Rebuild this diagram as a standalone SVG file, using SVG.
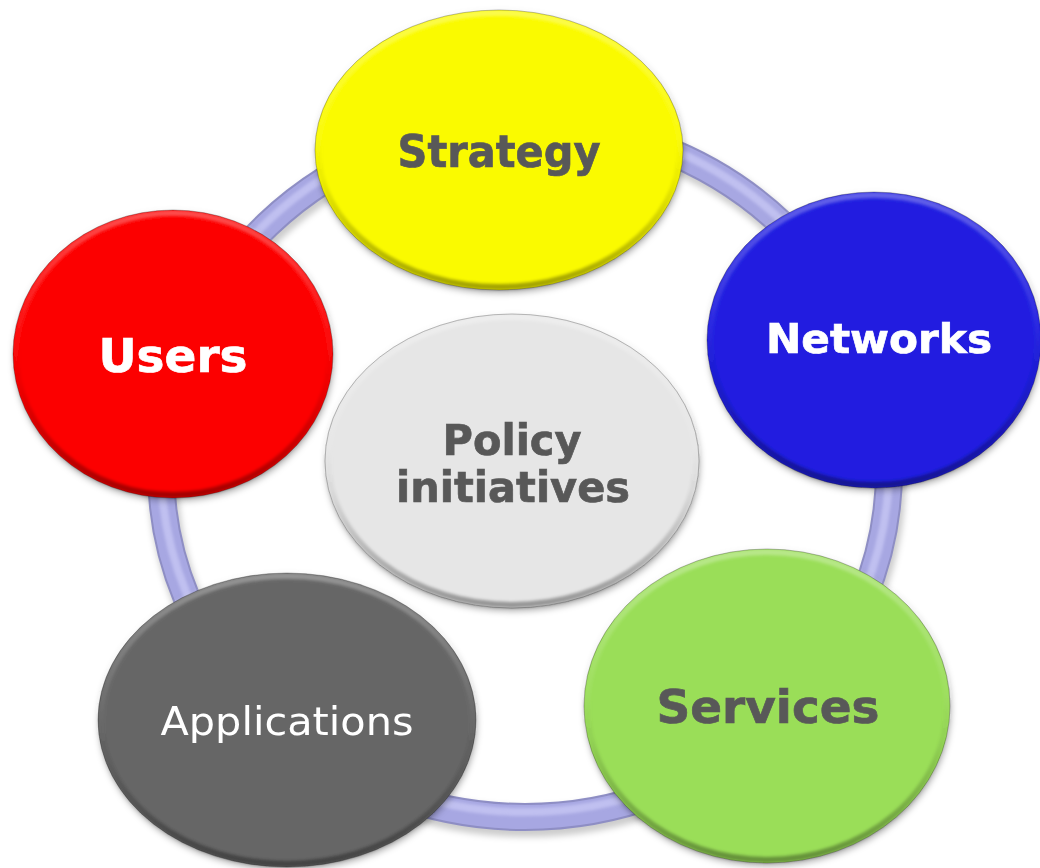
<svg xmlns="http://www.w3.org/2000/svg" width="1040" height="868" viewBox="0 0 1040 868">
  <defs>
    <style>
      .lbl { font-family: "DejaVu Sans", Verdana, sans-serif; text-anchor: middle; }
      .b { font-weight: bold; stroke-width: 0.7; }
      .dark { fill: #595959; stroke: #595959; }
      .light { fill: #ffffff; stroke: #ffffff; }
      .reg { stroke-width: 0; }
      .node { filter: url(#shadow); }
      .rim { fill: none; stroke: #000; stroke-opacity: 0.25; stroke-width: 1; }
      .bevel { fill: none; stroke: url(#bevelGrad); stroke-width: 6; filter: url(#soft); }
    </style>
    <filter id="shadow" x="-10%" y="-10%" width="120%" height="125%">
      <feDropShadow dx="1" dy="3" stdDeviation="3" flood-color="#000" flood-opacity="0.3"/>
    </filter>
    <filter id="soft" x="-5%" y="-5%" width="110%" height="110%">
      <feGaussianBlur stdDeviation="1.4"/>
    </filter>
    <filter id="tubeShadow" x="-10%" y="-10%" width="120%" height="120%">
      <feGaussianBlur stdDeviation="3"/>
    </filter>
    <linearGradient id="bevelGrad" x1="0" y1="0" x2="0" y2="1">
      <stop offset="0" stop-color="#ffffff" stop-opacity="0.3"/>
      <stop offset="0.45" stop-color="#ffffff" stop-opacity="0.05"/>
      <stop offset="0.6" stop-color="#000000" stop-opacity="0.05"/>
      <stop offset="1" stop-color="#000000" stop-opacity="0.35"/>
    </linearGradient>
  </defs>

  <rect width="1040" height="868" fill="#ffffff"/>

  <!-- ring connecting the outer nodes -->
  <g id="connectors">
    <ellipse cx="527" cy="475" rx="364" ry="347" fill="none" stroke="#000" stroke-opacity="0.2" stroke-width="30" filter="url(#tubeShadow)"/>
    <ellipse cx="525" cy="470" rx="364" ry="347" fill="none" stroke="#8e8ec4" stroke-width="28"/>
    <ellipse cx="525" cy="470" rx="364" ry="347" fill="none" stroke="#a7a7e2" stroke-width="24"/>
    <ellipse cx="525" cy="466" rx="364" ry="346" fill="none" stroke="#c0c0f0" stroke-width="8" filter="url(#soft)"/>
  </g>

  <g id="strategy" class="node">
    <ellipse cx="499" cy="150" rx="184" ry="140" fill="#fafa00"/>
    <ellipse cx="499" cy="150" rx="181" ry="137" class="bevel"/>
    <ellipse cx="499" cy="150" rx="184" ry="140" class="rim"/>
    <text x="499" y="167" class="lbl b dark" font-size="45" textLength="203" lengthAdjust="spacingAndGlyphs">Strategy</text>
  </g>

  <g id="users" class="node">
    <ellipse cx="173" cy="354" rx="160" ry="144" fill="#fc0000"/>
    <ellipse cx="173" cy="354" rx="157" ry="141" class="bevel"/>
    <ellipse cx="173" cy="354" rx="160" ry="144" class="rim"/>
    <text x="173" y="372" class="lbl b light" font-size="47" textLength="149" lengthAdjust="spacingAndGlyphs">Users</text>
  </g>

  <g id="networks" class="node">
    <ellipse cx="874" cy="340" rx="167" ry="148" fill="#201ee0"/>
    <ellipse cx="874" cy="340" rx="164" ry="145" class="bevel"/>
    <ellipse cx="874" cy="340" rx="167" ry="148" class="rim"/>
    <text x="879" y="353" class="lbl b light" font-size="41" textLength="226" lengthAdjust="spacingAndGlyphs">Networks</text>
  </g>

  <g id="applications" class="node">
    <ellipse cx="287" cy="720" rx="189" ry="147" fill="#666666"/>
    <ellipse cx="287" cy="720" rx="186" ry="144" class="bevel"/>
    <ellipse cx="287" cy="720" rx="189" ry="147" class="rim"/>
    <text x="287" y="735" class="lbl light reg" font-size="39" textLength="253" lengthAdjust="spacingAndGlyphs">Applications</text>
  </g>

  <g id="services" class="node">
    <ellipse cx="767" cy="706" rx="183" ry="157" fill="#9ade58"/>
    <ellipse cx="767" cy="706" rx="180" ry="154" class="bevel"/>
    <ellipse cx="767" cy="706" rx="183" ry="157" class="rim"/>
    <text x="768" y="723" class="lbl b dark" font-size="47" textLength="223" lengthAdjust="spacingAndGlyphs">Services</text>
  </g>

  <g id="policy" class="node">
    <ellipse cx="512" cy="461" rx="187" ry="147" fill="#e6e6e6"/>
    <ellipse cx="512" cy="461" rx="184" ry="144" class="bevel"/>
    <ellipse cx="512" cy="461" rx="187" ry="147" class="rim"/>
    <text x="512" y="455" class="lbl b dark" font-size="43" textLength="139" lengthAdjust="spacingAndGlyphs">Policy</text>
    <text x="513" y="502" class="lbl b dark" font-size="43" textLength="234" lengthAdjust="spacingAndGlyphs">initiatives</text>
  </g>
</svg>
